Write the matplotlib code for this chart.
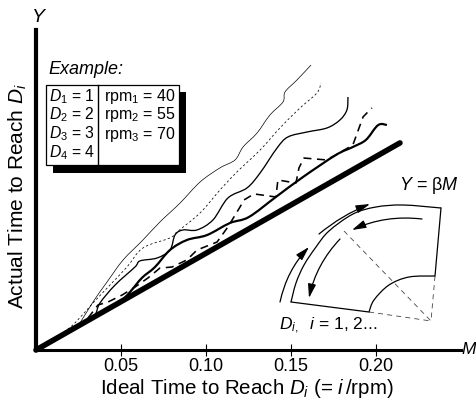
import matplotlib
matplotlib.use("Agg")
import matplotlib.pyplot as plt
import numpy as np
from matplotlib.path import Path
from matplotlib.patches import PathPatch, Rectangle, FancyArrowPatch

plt.rcParams['font.family'] = ['Liberation Sans', 'DejaVu Sans']
plt.rcParams['mathtext.fontset'] = 'custom'
plt.rcParams['mathtext.rm'] = 'Liberation Sans'
plt.rcParams['mathtext.it'] = 'Liberation Sans:italic'
plt.rcParams['mathtext.bf'] = 'Liberation Sans:bold'

tick_values = [0.05, 0.10, 0.15, 0.20]
tick_labels = ['0.05', '0.10', '0.15', '0.20']
ideal_x = [0, 0.2141]
ideal_y = [0, 0.1218]

a_x = [.0241,.0335,.0418,.0512,.0629,.0729,.0847,.0965,.1082,.1171,.1218,.13,.1376,.1453,.1465,.1535,.1618]
a_y = [.0129,.0282,.04,.0529,.0647,.0753,.0864,.0988,.1071,.1118,.1194,.1276,.1382,.1459,.1518,.1588,.1676]
b_x = [.0165,.0229,.0335,.0435,.0535,.0629,.0788,.0829,.0965,.1082,.1182,.1318,.1435,.1553,.1653,.1676]
b_y = [.0106,.0159,.0276,.0382,.0488,.06,.0659,.0694,.0806,.0941,.1047,.1176,.1306,.1423,.1512,.157]
c_x = [.0288,.0347,.0376,.0465,.0582,.0612,.0712,.0788,.0818,.0865,.0947,.1041,.1129,.1241,.1318,.1418,.1482,.1594,.1712,.1788,.1829,.1835]
c_y = [.0165,.0206,.0276,.0382,.0488,.0524,.0541,.0588,.0677,.0706,.0706,.0765,.0894,.0953,.1041,.1188,.1253,.1282,.1306,.1353,.1412,.1488]
d_x = [.0406,.0494,.0553,.0623,.07,.0788,.0888,.1006,.1141,.1252,.1411,.157,.1764,.1864,.194,.2,.2029,.2064]
d_y = [.0224,.0282,.0341,.0424,.0488,.0588,.0647,.0676,.0747,.0782,.09,.1017,.1147,.1194,.1235,.1311,.1329,.1323]
e_x = [.0306,.0365,.0423,.0506,.0582,.0659,.0729,.0800,.0888,.0947,.1065,.1129,.12,.1223,.1282,.1411,.1423,.1529,.1547,.1576,.1706,.1764,.1864,.1924,.1976]
e_y = [.0188,.0265,.0282,.0323,.037,.0424,.0482,.0488,.0530,.0588,.0635,.0724,.0841,.0882,.0918,.09,.1,.0982,.1071,.1129,.1118,.1147,.1206,.1371,.1424]

col1 = ['$D_1$ = 1', '$D_2$ = 2', '$D_3$ = 3', '$D_4$ = 4']
col2 = ['rpm$_1$ = 40', 'rpm$_2$ = 55', 'rpm$_3$ = 70']


def smooth_path(xs, ys):
    p = np.column_stack([xs, ys])
    q = np.vstack([p[0], p, p[-1]])
    verts = [p[0]]
    codes = [Path.MOVETO]
    for i in range(1, len(q) - 2):
        verts += [q[i] + (q[i + 1] - q[i - 1]) / 6, q[i + 1] - (q[i + 2] - q[i]) / 6, q[i + 1]]
        codes += [Path.CURVE4] * 3
    return Path(verts, codes)


W, H = 476, 400
fig = plt.figure(figsize=(4.76, 4.0), dpi=100)
ax = fig.add_axes([36 / W, 50 / H, 425 / W, 320 / H])
ax.set_xlim(0, 0.25)
ax.set_ylim(0, 0.1882)
for s in ['top', 'right']:
    ax.spines[s].set_visible(False)
ax.spines['left'].set_linewidth(3)
ax.spines['bottom'].set_linewidth(2.2)
ax.set_yticks([])
ax.set_xticks(tick_values, tick_labels, fontsize=13)
ax.tick_params(axis='x', direction='inout', length=9, width=0.8, pad=1)
ax.set_xlabel(r'Ideal Time to Reach $D_i$ (= $i\,$/rpm)', fontsize=14.8)
ax.xaxis.set_label_coords(211 / 425, -39 / 320)
ax.xaxis.label.set_va('center')
ax.set_ylabel(r'Actual Time to Reach $D_i$', fontsize=15)
ax.yaxis.set_label_coords(-18 / 425, 154 / 320)
ax.yaxis.label.set_va('center')

ax.plot(ideal_x, ideal_y, color='k', lw=4, solid_capstyle='round', clip_on=False, zorder=5)
ax.add_patch(PathPatch(smooth_path(a_x, a_y), fc='none', ec='k', lw=0.5))
ax.add_patch(PathPatch(smooth_path(b_x, b_y), fc='none', ec='k', lw=0.55, ls=(0, (3, 3))))
ax.add_patch(PathPatch(smooth_path(c_x, c_y), fc='none', ec='k', lw=0.95))
ax.add_patch(PathPatch(smooth_path(d_x, d_y), fc='none', ec='k', lw=1.6))
ax.plot(e_x, e_y, color='k', lw=1.15, ls=(0, (5, 3.5)))

# overlay in pixels for the schematic and the example table
ov = fig.add_axes([0, 0, 1, 1], facecolor='none')
ov.set_xlim(0, W)
ov.set_ylim(H, 0)
ov.axis('off')

ov.text(38, 17, 'Y', style='italic', fontsize=14, ha='center', va='center')
ov.text(469, 350, 'M', style='italic', fontsize=12.5, ha='center', va='center')
ov.text(48, 70, 'Example:', style='italic', fontsize=13, ha='left', va='center')
ov.add_patch(Rectangle((53, 92), 133, 81, fc='k', ec='k', lw=0))
ov.add_patch(Rectangle((46, 85), 133, 80, fc='w', ec='k', lw=0.9))
ov.plot([98, 98], [85, 165], color='k', lw=1)
for y, t in zip([97, 115, 134, 153], col1):
    ov.text(49, y, t, fontsize=11.3, ha='left', va='center')
for y, t in zip([97, 115, 134], col2):
    ov.text(104, y, t, fontsize=11.5, ha='left', va='center')
ov.text(399, 186, r'$Y$ = $\mathrm{\beta}M$', fontsize=13, ha='left', va='center')
ov.text(279, 326, r'$D_{i,}$  $i$ = 1, 2...', fontsize=12.5, ha='left', va='center')

outer_arc = [(291, 302), (296, 283), (304, 265), (316, 247), (329, 231), (353, 214), (376, 207), (403, 205), (441, 208)]
inner_arc = [(435, 276), (409, 277), (389, 285), (374, 300), (369, 312)]
ox, oy = zip(*outer_arc)
ix, iy = zip(*inner_arc)
ov.add_patch(PathPatch(smooth_path(ox, oy), fc='none', ec='k', lw=0.9))
ov.add_patch(PathPatch(smooth_path(ix, iy), fc='none', ec='k', lw=0.9))
ov.plot([441, 435], [208, 276], color='k', lw=0.9)
ov.plot([369, 291], [312, 302], color='k', lw=0.9)
dash = dict(color='#444444', lw=0.6, ls=(0, (6, 5)))
ov.plot([369, 431], [312, 321], **dash)
ov.plot([435, 431], [276, 321], **dash)
ov.plot([344, 431], [231, 321], **dash)

arrows = [((280, 302), (309, 247), -0.14), ((319, 234), (370, 204), -0.08),
          ((422, 219), (352, 230), 0.14), ((340, 239), (309, 298), 0.14)]
for a, b, r in arrows:
    ov.add_patch(FancyArrowPatch(a, b, connectionstyle=f'arc3,rad={r}',
                                 arrowstyle='-|>,head_length=0.7,head_width=0.2',
                                 mutation_scale=12, lw=0.9, color='k', shrinkA=0, shrinkB=0))

fig.savefig('out.png', dpi=100)
